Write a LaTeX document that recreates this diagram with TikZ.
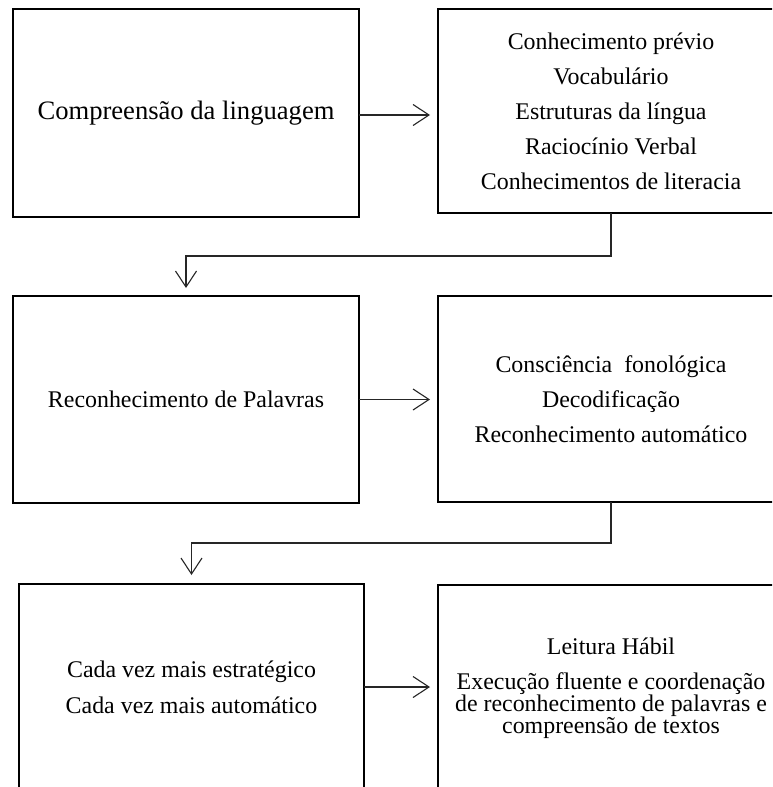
\documentclass[tikz,border=0pt]{standalone}
\usepackage{fontspec}
\setmainfont{Liberation Serif}
\usetikzlibrary{arrows.meta}
\begin{document}
\begin{tikzpicture}[x=1pt,y=-1pt,
  box/.style={draw=black, line width=2.4pt, rectangle, inner sep=0pt, outer sep=0pt,
    align=center, font=\fontsize{23.9}{35}\selectfont},
  bigbox/.style={box, font=\fontsize{26.6}{32}\selectfont},
  arr/.style={line width=1.1pt, draw=black!85, -{Straight Barb[length=16pt,width=21pt,line width=1.1pt]}}
]
\clip (0,0) rectangle (772,787);
\fill[white] (0,0) rectangle (772,787);

\node[bigbox, minimum width=346pt, minimum height=208pt] (b1) at (186,113) {Compreensão da linguagem};
\node[box, minimum width=346pt, minimum height=204pt] (b2) at (611,111)
  {Conhecimento prévio\\Vocabulário\\Estruturas da língua\\Raciocínio Verbal\\Conhecimentos de literacia};
\node[box, minimum width=346pt, minimum height=207pt] (b3) at (186,399.5) {Reconhecimento de Palavras};
\node[box, minimum width=346pt, minimum height=206pt] (b4) at (611,399)
  {Consciência\ \ fonológica\\Decodificação\\Reconhecimento automático};
\node[box, font=\fontsize{23.9}{36}\selectfont, minimum width=345pt, minimum height=206pt] (b5) at (191.5,687)
  {Cada vez mais estratégico\\Cada vez mais automático};
\node[box, font=\fontsize{23.9}{22}\selectfont, minimum width=346pt, minimum height=206pt] (b6) at (611,688)
  {Leitura Hábil\\[13pt]Execução fluente e coordenação\\de reconhecimento de palavras e\\compreensão de textos};

\draw[arr, shorten >=8pt] ([yshift=-2pt]b1.east) -- ([yshift=-2pt]b1.east -| b2.west);
\draw[arr, shorten >=8pt] (b3.east) -- (b3.east -| b4.west);
\draw[arr, shorten >=8pt] (b5.east) -- (b5.east -| b6.west);
\draw[arr, shorten >=8pt] (b2.south) -- ++(0,43) -| (b3.north);
\draw[arr, shorten >=9pt] (b4.south) -- ++(0,41) -| (b5.north);
\end{tikzpicture}
\end{document}
